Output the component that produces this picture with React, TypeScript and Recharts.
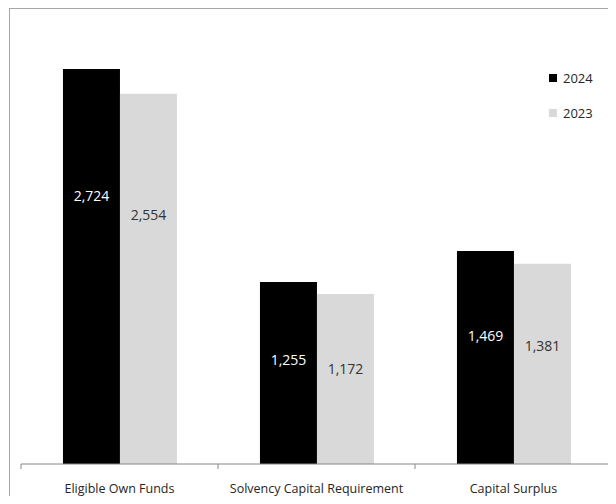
import { BarChart, Bar, XAxis, YAxis, Legend, LabelList } from "recharts";

const categories = ["Eligible Own Funds", "Solvency Capital Requirement", "Capital Surplus"];
const seriesNames = ["2024", "2023"];
const values2024 = [2724, 1255, 1469];
const values2023 = [2554, 1172, 1381];

const data = categories.map((name, i) => ({ name, y2024: values2024[i], y2023: values2023[i] }));

const font = "'Open Sans', sans-serif";
const W = 606;
const H = 487;
const margin = { top: 20, right: 4, left: 11, bottom: 3 };
const band = (W - margin.left - margin.right) / categories.length;

function fmt(n: number) {
  return n.toLocaleString("en-US");
}

function CategoryTick(props: any) {
  const { x, y, payload, index } = props;
  const half = payload?.offset > 0 ? payload.offset : band / 2;
  return (
    <g>
      <line x1={x - half} x2={x - half} y1={y} y2={y + 5} stroke="#868686" />
      {index === categories.length - 1 && (
        <line x1={x + half} x2={x + half} y1={y} y2={y + 5} stroke="#868686" />
      )}
      <text x={x} y={y + 24} textAnchor="middle" dominantBaseline="central" fontSize={12.5} fontFamily={font} fill="#262626">
        {payload.value}
      </text>
    </g>
  );
}

// labels sit a bit above the middle of each bar, like the source
function valueLabel(color: string) {
  return (props: any) => {
    const { x, y, width, height, value } = props;
    const cy = y + height * 0.232 + 35;
    return (
      <text x={x + width / 2} y={cy} textAnchor="middle" dominantBaseline="central" fontSize={14} fontFamily={font} fill={color}>
        {fmt(value)}
      </text>
    );
  };
}

function LegendBox(props: any) {
  const items = [...(props.payload || [])].sort(
    (a: any, b: any) => seriesNames.indexOf(a.value) - seriesNames.indexOf(b.value)
  );
  return (
    <div style={{ fontFamily: font, fontSize: 13, color: "#262626" }}>
      {items.map((it: any) => (
        <div key={it.value} style={{ display: "flex", alignItems: "center", height: 35 }}>
          <span style={{ width: 8, height: 8, background: it.color, marginRight: 6, display: "inline-block" }} />
          {it.value}
        </div>
      ))}
    </div>
  );
}

export default function App() {
  return (
    <div style={{ marginLeft: 1, width: 607, height: 488, borderTop: "1px solid #a6a6a6", borderLeft: "1px solid #a6a6a6", boxSizing: "border-box" }}>
      <BarChart width={W} height={H} data={data} margin={margin} barCategoryGap="21.3%" barGap={0}>
        <XAxis
          dataKey="name"
          axisLine={{ stroke: "#868686" }}
          tickLine={false}
          tickSize={0}
          tickMargin={0}
          height={29}
          interval={0}
          tick={<CategoryTick />}
        />
        <YAxis hide domain={[0, 3000]} />
        <Legend
          layout="vertical"
          align="center"
          verticalAlign="middle"
          content={<LegendBox />}
          wrapperStyle={{ top: 51, left: 539, width: "auto" }}
        />
        <Bar dataKey="y2024" name={seriesNames[0]} fill="#000000" isAnimationActive={false}>
          <LabelList dataKey="y2024" content={valueLabel("#ffffff")} />
        </Bar>
        <Bar dataKey="y2023" name={seriesNames[1]} fill="#d9d9d9" isAnimationActive={false}>
          <LabelList dataKey="y2023" content={valueLabel("#333333")} />
        </Bar>
      </BarChart>
    </div>
  );
}
